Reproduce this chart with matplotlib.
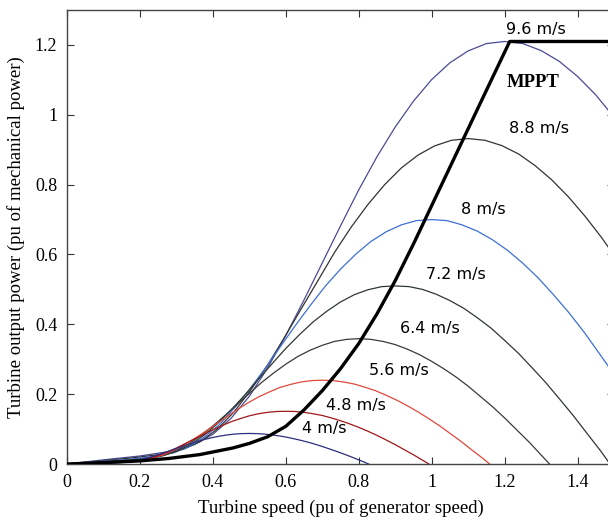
import matplotlib
matplotlib.use("Agg")
import matplotlib.pyplot as plt
from matplotlib.ticker import FormatStrFormatter

# turbine power curves (speed pu, power pu)
speed_96 = [0, 0.1, 0.2, 0.3, 0.35, 0.4, 0.45, 0.5, 0.55, 0.6, 0.65, 0.7, 0.75, 0.8, 0.85, 0.9, 0.95,
            1.0, 1.05, 1.1, 1.15, 1.2, 1.25, 1.3, 1.35, 1.4, 1.45, 1.5]
power_96 = [0, 0.012, 0.023, 0.039, 0.056, 0.085, 0.131, 0.194, 0.275, 0.368, 0.470, 0.576, 0.682, 0.785,
            0.880, 0.965, 1.039, 1.101, 1.149, 1.183, 1.204, 1.210, 1.204, 1.184, 1.153, 1.110, 1.057, 0.993]

speed_88 = [0, 0.092, 0.183, 0.275, 0.321, 0.367, 0.413, 0.458, 0.504, 0.550, 0.596, 0.642, 0.688, 0.733,
            0.779, 0.825, 0.871, 0.917, 0.963, 1.008, 1.054, 1.100, 1.146, 1.192, 1.238, 1.283, 1.329,
            1.375, 1.421, 1.467, 1.513]
power_88 = [0, 0.009, 0.018, 0.030, 0.043, 0.065, 0.101, 0.149, 0.212, 0.283, 0.362, 0.444, 0.525, 0.605,
            0.678, 0.743, 0.800, 0.848, 0.885, 0.911, 0.927, 0.932, 0.927, 0.912, 0.888, 0.855, 0.814,
            0.765, 0.709, 0.647, 0.578]

speed_80 = [0, 0.083, 0.167, 0.25, 0.292, 0.333, 0.375, 0.417, 0.458, 0.5, 0.542, 0.583, 0.625, 0.667,
            0.708, 0.75, 0.792, 0.833, 0.875, 0.917, 0.958, 1.0, 1.042, 1.083, 1.125, 1.167, 1.208, 1.25,
            1.292, 1.333, 1.375, 1.417, 1.458, 1.5]
power_80 = [0, 0.007, 0.013, 0.023, 0.032, 0.049, 0.076, 0.112, 0.159, 0.213, 0.272, 0.333, 0.395, 0.454,
            0.509, 0.558, 0.601, 0.637, 0.665, 0.685, 0.697, 0.700, 0.697, 0.685, 0.667, 0.642, 0.612,
            0.575, 0.533, 0.486, 0.435, 0.379, 0.319, 0.257]

speed_72 = [0, 0.075, 0.15, 0.225, 0.263, 0.3, 0.338, 0.375, 0.413, 0.45, 0.488, 0.525, 0.563, 0.6, 0.638,
            0.675, 0.713, 0.75, 0.788, 0.825, 0.863, 0.9, 0.938, 0.975, 1.013, 1.05, 1.088, 1.125, 1.163,
            1.2, 1.238, 1.275, 1.313, 1.35, 1.388, 1.425, 1.463, 1.5]
power_72 = [0, 0.005, 0.010, 0.016, 0.024, 0.036, 0.055, 0.082, 0.116, 0.155, 0.198, 0.243, 0.288, 0.331,
            0.371, 0.407, 0.438, 0.464, 0.485, 0.499, 0.508, 0.510, 0.508, 0.500, 0.486, 0.468, 0.446,
            0.419, 0.389, 0.354, 0.317, 0.276, 0.233, 0.187, 0.139, 0.089, 0.038, -0.016]

speed_64 = [0, 0.067, 0.133, 0.2, 0.233, 0.267, 0.3, 0.333, 0.367, 0.4, 0.433, 0.467, 0.5, 0.533, 0.567,
            0.6, 0.633, 0.667, 0.7, 0.733, 0.767, 0.8, 0.833, 0.867, 0.9, 0.933, 0.967, 1.0, 1.033, 1.067,
            1.1, 1.133, 1.167, 1.2, 1.233, 1.267, 1.3, 1.333]
power_64 = [0, 0.004, 0.007, 0.012, 0.017, 0.025, 0.039, 0.057, 0.081, 0.109, 0.139, 0.171, 0.202, 0.233,
            0.261, 0.286, 0.308, 0.326, 0.340, 0.351, 0.357, 0.359, 0.357, 0.351, 0.342, 0.329, 0.313,
            0.294, 0.273, 0.249, 0.223, 0.194, 0.164, 0.132, 0.098, 0.063, 0.026, -0.011]

speed_56 = [0, 0.058, 0.117, 0.175, 0.204, 0.233, 0.263, 0.292, 0.321, 0.35, 0.379, 0.408, 0.438, 0.467,
            0.496, 0.525, 0.554, 0.583, 0.613, 0.642, 0.671, 0.7, 0.729, 0.758, 0.788, 0.817, 0.846, 0.875,
            0.904, 0.933, 0.963, 0.992, 1.021, 1.05, 1.079, 1.108, 1.138, 1.167]
power_56 = [0, 0.002, 0.005, 0.008, 0.011, 0.017, 0.026, 0.039, 0.055, 0.073, 0.093, 0.114, 0.135, 0.156,
            0.175, 0.192, 0.206, 0.219, 0.228, 0.235, 0.239, 0.240, 0.239, 0.235, 0.229, 0.220, 0.210,
            0.197, 0.183, 0.167, 0.149, 0.130, 0.110, 0.088, 0.066, 0.042, 0.018, -0.007]

speed_48 = [0, 0.05, 0.1, 0.15, 0.175, 0.2, 0.225, 0.25, 0.275, 0.3, 0.325, 0.35, 0.375, 0.4, 0.425, 0.45,
            0.475, 0.5, 0.525, 0.55, 0.575, 0.6, 0.625, 0.65, 0.675, 0.7, 0.725, 0.75, 0.775, 0.8, 0.825,
            0.85, 0.875, 0.9, 0.925, 0.95, 0.975, 1.0]
power_48 = [0, 0.0015, 0.003, 0.005, 0.007, 0.011, 0.016, 0.024, 0.034, 0.046, 0.059, 0.072, 0.085, 0.098,
            0.110, 0.121, 0.130, 0.138, 0.144, 0.148, 0.1505, 0.151, 0.1505, 0.148, 0.144, 0.139, 0.132,
            0.124, 0.115, 0.105, 0.094, 0.082, 0.069, 0.0555, 0.041, 0.0265, 0.011, -0.005]

speed_40 = [0, 0.042, 0.083, 0.125, 0.146, 0.167, 0.188, 0.208, 0.229, 0.25, 0.271, 0.292, 0.313, 0.333,
            0.354, 0.375, 0.396, 0.417, 0.438, 0.458, 0.479, 0.5, 0.521, 0.542, 0.563, 0.583, 0.604, 0.625,
            0.646, 0.667, 0.688, 0.708, 0.729, 0.75, 0.771, 0.792, 0.813, 0.833]
power_40 = [0, 0.0009, 0.0017, 0.0028, 0.004, 0.006, 0.0095, 0.014, 0.020, 0.0266, 0.034, 0.0417, 0.0493,
            0.0568, 0.0637, 0.0698, 0.0752, 0.0796, 0.0831, 0.0856, 0.0871, 0.0875, 0.0871, 0.0856, 0.0834,
            0.0803, 0.0765, 0.0718, 0.0666, 0.0608, 0.0543, 0.0474, 0.0399, 0.0321, 0.0239, 0.0153,
            0.0064, -0.0027]

# maximum power point tracking characteristic
mppt_speed = [0, 0.1, 0.2, 0.28, 0.364, 0.455, 0.5, 0.55, 0.6, 0.65, 0.7, 0.75, 0.8, 0.85, 0.9, 0.95,
              1.0, 1.05, 1.1, 1.15, 1.214, 1.5]
mppt_power = [0, 0.004, 0.009, 0.016, 0.027, 0.046, 0.059, 0.078, 0.108, 0.155, 0.21, 0.273, 0.345, 0.43,
              0.525, 0.63, 0.74, 0.85, 0.96, 1.07, 1.21, 1.21]

wind_labels = ["9.6 m/s", "8.8 m/s", "8 m/s", "7.2 m/s", "6.4 m/s", "5.6 m/s", "4.8 m/s", "4 m/s"]

curves = [
    (speed_96, power_96, "#4b4b95", (1.285, 1.243)),
    (speed_88, power_88, "#333333", (1.293, 0.961)),
    (speed_80, power_80, "#3c6fd6", (1.142, 0.728)),
    (speed_72, power_72, "#2f3a2f", (1.066, 0.544)),
    (speed_64, power_64, "#3a3a3a", (0.995, 0.388)),
    (speed_56, power_56, "#e04a3a", (0.910, 0.269)),
    (speed_48, power_48, "#a01818", (0.792, 0.169)),
    (speed_40, power_40, "#2e2e80", (0.705, 0.102)),
]

serif = "Liberation Serif"

fig = plt.figure(figsize=(6.08, 5.18), dpi=100)
ax = fig.add_axes([0.1102, 0.1042, 0.8997, 0.8764])

for (sp, pw, col, pos), lab in zip(curves, wind_labels):
    ax.plot(sp, pw, color=col, lw=0.9)
    ax.text(pos[0], pos[1], lab, fontsize=11.5, family="DejaVu Sans",
            ha="center", va="center", color="black")

ax.plot(mppt_speed, mppt_power, color="black", lw=2.4, solid_capstyle="butt",
        solid_joinstyle="round", zorder=5)
ax.text(1.279, 1.092, "MPPT", fontsize=13.5, family=serif, fontweight="bold",
        ha="center", va="center")

ax.set_xlim(0, 1.5)
ax.set_ylim(0, 1.3)
ax.set_xticks([0, 0.2, 0.4, 0.6, 0.8, 1.0, 1.2, 1.4])
ax.set_yticks([0, 0.2, 0.4, 0.6, 0.8, 1.0, 1.2])
ax.xaxis.set_major_formatter(FormatStrFormatter("%g"))
ax.yaxis.set_major_formatter(FormatStrFormatter("%g"))
ax.tick_params(direction="in", length=5, width=0.8, color="#333333",
               top=True, right=True, labelsize=13, pad=7)
for lbl in ax.get_xticklabels() + ax.get_yticklabels():
    lbl.set_family(serif)
for sp in ax.spines.values():
    sp.set_color("#444444")
    sp.set_linewidth(1.0)

ax.set_xlabel("Turbine speed (pu of generator speed)", fontsize=13.5, family=serif)
ax.set_ylabel("Turbine output power (pu of mechanical power)", fontsize=13.5, family=serif)
ax.xaxis.set_label_coords(0.5, -0.077)
ax.yaxis.set_label_coords(-0.077, 0.5)

fig.savefig("out.png", dpi=100)
